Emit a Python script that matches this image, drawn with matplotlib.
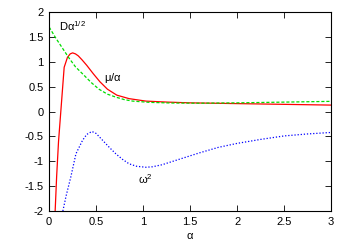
import matplotlib
matplotlib.use('Agg')
import matplotlib.pyplot as plt

plt.rcParams['font.family'] = ['Liberation Sans', 'DejaVu Sans']
plt.rcParams['mathtext.default'] = 'regular'

# mu/alpha (red)
mu_x = [0.064, 0.08, 0.1, 0.125, 0.16, 0.195, 0.224, 0.25, 0.28, 0.31, 0.35, 0.40,
        0.47, 0.54, 0.62, 0.72, 0.85, 1.03, 1.26, 1.5, 2.0, 2.5, 3.0]
mu_y = [-2.0, -1.3, -0.6, 0.02, 0.89, 1.09, 1.16, 1.18, 1.16, 1.12, 1.04, 0.93,
        0.76, 0.60, 0.45, 0.33, 0.26, 0.21, 0.19, 0.175, 0.16, 0.145, 0.13]

# D alpha^(1/2) (green)
d_x = [0.0, 0.07, 0.14, 0.21, 0.28, 0.355, 0.45, 0.53, 0.62, 0.71, 0.8, 0.89, 1.07,
       1.3, 1.6, 2.0, 2.5, 3.0]
d_y = [1.7, 1.48, 1.28, 1.08, 0.9, 0.76, 0.58, 0.45, 0.35, 0.29, 0.24, 0.21, 0.185,
       0.172, 0.168, 0.175, 0.19, 0.205]

# omega^2 (blue)
w_x = [0.146, 0.18, 0.23, 0.285, 0.355, 0.4, 0.455, 0.5, 0.57, 0.64, 0.71, 0.78,
       0.85, 0.93, 1.03, 1.1, 1.2, 1.4, 1.6, 1.8, 2.0, 2.25, 2.5, 2.75, 3.0]
w_y = [-2.0, -1.7, -1.32, -0.85, -0.58, -0.46, -0.40, -0.44, -0.58, -0.72, -0.85, -0.96,
       -1.05, -1.1, -1.12, -1.11, -1.07, -0.95, -0.83, -0.72, -0.64, -0.56, -0.49, -0.45, -0.42]

fig = plt.figure(figsize=(3.46, 2.42), dpi=100)
ax = fig.add_axes([0.142, 0.128, 0.815, 0.822])

ax.plot(mu_x, mu_y, color='#ff0000', lw=0.9, ls='-')
ax.plot(d_x, d_y, color='#00dd00', lw=0.9, ls=(0, (2.5, 1.5)))
ax.plot(w_x, w_y, color='#0000ff', lw=0.9, ls=(0, (1, 1.5)))

ax.text(0.1, 1.72, r'D$\alpha^{1/2}$', fontsize=8, va='center', ha='left')
ax.text(0.58, 0.68, r'$\mu/\alpha$', fontsize=8, va='center', ha='left')
ax.text(0.95, -1.36, r'$\omega^2$', fontsize=8, va='center', ha='left')

ax.set_xlim(0, 3)
ax.set_ylim(-2, 2)
ax.set_xticks([0, 0.5, 1, 1.5, 2, 2.5, 3])
ax.set_xticklabels(['0', '0.5', '1', '1.5', '2', '2.5', '3'])
ax.set_yticks([-2, -1.5, -1, -0.5, 0, 0.5, 1, 1.5, 2])
ax.set_yticklabels(['-2', '-1.5', '-1', '-0.5', '0', '0.5', '1', '1.5', '2'])
ax.tick_params(direction='in', top=True, right=True, length=4, width=0.6,
               labelsize=8, pad=4)
for s in ax.spines.values():
    s.set_linewidth(0.8)
ax.set_xlabel(r'$\alpha$', fontsize=8, labelpad=3)

fig.savefig('out.png', dpi=100)
